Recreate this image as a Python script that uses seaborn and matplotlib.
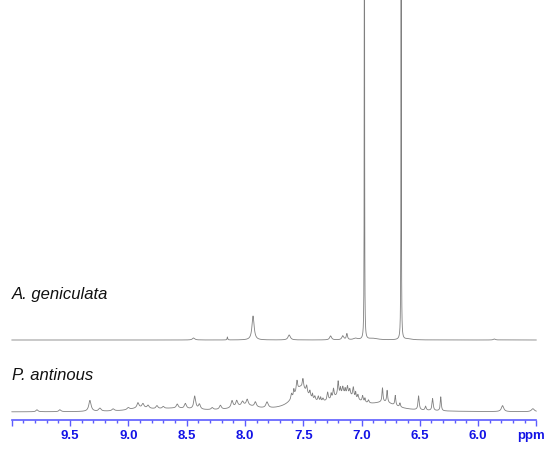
import numpy as np
import pandas as pd
import matplotlib
matplotlib.use("Agg")
import matplotlib.pyplot as plt
import seaborn as sns
from matplotlib.ticker import FixedLocator, FixedFormatter

# ---- data: peak tables (ppm, height, half-width) ----
gen_ppm   = [6.975, 6.66, 7.93, 7.62, 7.265, 7.16, 7.125, 8.44, 8.15, 7.05, 5.86, 6.90, 6.60]
gen_h     = [900, 900, 24, 5, 4, 4, 6, 2, 3, 1.5, 1, 1.5, 1]
gen_w     = [0.0012, 0.0012, 0.011, 0.012, 0.01, 0.01, 0.006, 0.012, 0.003, 0.02, 0.01, 0.05, 0.04]

ant_ppm = [7.52, 7.15, 6.80, 8.00, 8.60, 8.90,
           9.783, 9.586, 9.329, 9.243, 9.13, 9.0, 8.917, 8.874, 8.83, 8.754, 8.70,
           8.58, 8.51, 8.43, 8.39, 8.28, 8.21, 8.11, 8.07, 8.02, 7.98, 7.91, 7.81,
           7.60, 7.553, 7.502, 7.47, 7.442, 7.40, 7.37, 7.33, 7.29, 7.24, 7.20, 7.16, 7.12,
           7.10, 7.07, 7.03, 6.99, 6.94, 6.82, 6.78, 6.71, 6.67, 6.51, 6.45, 6.39,
           6.32, 5.79, 5.53, 7.58, 7.42, 7.35, 7.26, 7.18, 7.14, 7.05, 6.97]
ant_h = [22, 16, 7, 5, 3, 3,
         2, 2, 11, 3, 2, 2, 5, 4, 3, 3, 2,
         4, 5, 13, 5, 2, 4, 7, 6, 4, 6, 5, 6,
         5, 10, 9, 7, 6, 4, 5, 3, 8, 9, 14, 7, 8,
         6, 10, 5, 6, 3, 14, 12, 10, 4, 14, 4, 12,
         14, 6, 3, 6, 5, 4, 5, 6, 5, 6, 4]
ant_w = [0.08, 0.15, 0.12, 0.12, 0.2, 0.1,
         0.01, 0.01, 0.012, 0.012, 0.012, 0.012, 0.01, 0.01, 0.01, 0.01, 0.01,
         0.01, 0.01, 0.01, 0.01, 0.01, 0.01, 0.01, 0.01, 0.01, 0.01, 0.01, 0.012,
         0.006, 0.006, 0.006, 0.006, 0.006, 0.006, 0.006, 0.006, 0.006, 0.006, 0.006, 0.006, 0.006,
         0.006, 0.006, 0.006, 0.006, 0.006, 0.005, 0.005, 0.005, 0.005, 0.006, 0.006, 0.006,
         0.005, 0.012, 0.015, 0.004, 0.004, 0.004, 0.004, 0.004, 0.004, 0.004, 0.004]

labels = ["A. geniculata", "P. antinous"]
tick_vals = [9.5, 9.0, 8.5, 8.0, 7.5, 7.0, 6.5, 6.0]
tick_labels = ["9.5", "9.0", "8.5", "8.0", "7.5", "7.0", "6.5", "6.0"]

# ---- build spectra from peak tables ----
ppm = np.linspace(5.5, 10.0, 40001)

def spectrum(cs, hs, ws):
    y = np.zeros_like(ppm)
    for c, h, w in zip(cs, hs, ws):
        y += h / (1.0 + ((ppm - c) / w) ** 2)
    return y

gen_offset, ant_offset = 80, 8
df = pd.concat([
    pd.DataFrame({"ppm": ppm, "I": spectrum(gen_ppm, gen_h, gen_w) + gen_offset, "s": labels[0]}),
    pd.DataFrame({"ppm": ppm, "I": spectrum(ant_ppm, ant_h, ant_w) + ant_offset, "s": labels[1]}),
])

sns.set_style("white")
plt.rcParams["font.family"] = ["Liberation Sans", "DejaVu Sans"]
plt.rcParams["xtick.bottom"] = True

fig = plt.figure(figsize=(5.5, 4.49), dpi=100)
ax = fig.add_axes([0, 29 / 449, 1, 420 / 449])

for s in labels:
    sub = df[df["s"] == s]
    sns.lineplot(data=sub, x="ppm", y="I", ax=ax, color="#808080", lw=0.6,
                 sort=False, estimator=None, legend=False)

pxppm = 116.6
ax.set_xlim(10.0 + 11.7 / pxppm, 5.5 - (550 - 536.4) / pxppm)
ax.set_ylim(0, 420)

for sp in ["top", "left", "right"]:
    ax.spines[sp].set_visible(False)
blue_line = "#5c5cff"
ax.spines["bottom"].set_color(blue_line)
ax.spines["bottom"].set_linewidth(1.2)
ax.spines["bottom"].set_bounds(5.5, 10.0)

ax.xaxis.set_major_locator(FixedLocator([10.0] + tick_vals + [5.5]))
ax.xaxis.set_major_formatter(FixedFormatter([""] + tick_labels + [""]))
minor = [round(5.5 + 0.1 * i, 1) for i in range(46)]
ax.xaxis.set_minor_locator(FixedLocator(minor))
ax.tick_params(axis="x", which="major", direction="out", length=4.5, width=1.0,
               color=blue_line, labelcolor="#1414e6", labelsize=9.5, pad=3, bottom=True)
ax.tick_params(axis="x", which="minor", direction="out", length=2.4, width=1.0,
               color=blue_line, bottom=True)
for t in ax.get_xticklabels():
    t.set_fontweight("bold")
ax.set_yticks([])
ax.set_xlabel("")
ax.set_ylabel("")

ax.text(5.55, -16.5, "ppm", ha="center", va="center", color="#1414e6",
        fontsize=9.5, fontweight="bold")
ax.text(10.0, 125, labels[0], ha="left", va="center", fontsize=12,
        style="italic", color="#111111")
ax.text(10.0, 45, labels[1], ha="left", va="center", fontsize=12,
        style="italic", color="#111111")

fig.savefig("out.png", dpi=100)
